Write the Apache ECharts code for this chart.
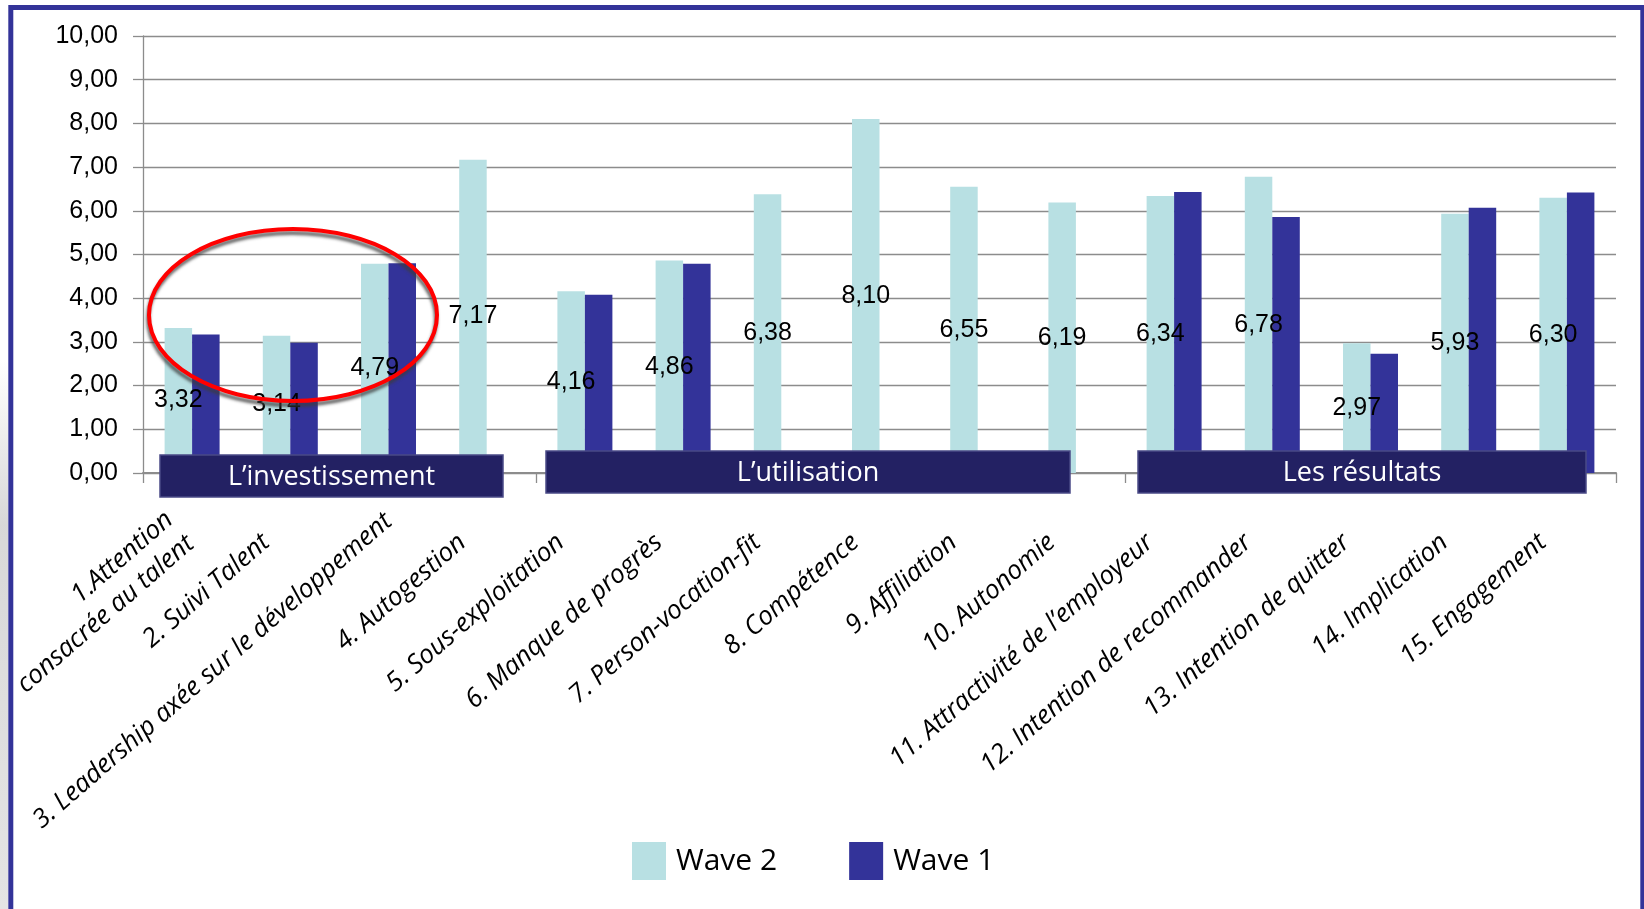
<!DOCTYPE html>
<html>
<head>
<meta charset="utf-8">
<script src="https://cdn.jsdelivr.net/npm/echarts@6/dist/echarts.min.js"></script>
<style>
  html, body { margin: 0; padding: 0; background: #fff; }
  #chart { width: 1644px; height: 909px; }
</style>
</head>
<body>
<div id="chart"></div>
<script>
// Dimension scores per wave
const categories = [
  '1.Attention\nconsacrée au talent',
  '2. Suivi Talent',
  '3. Leadership axée sur le développement',
  '4. Autogestion',
  '5. Sous-exploitation',
  '6. Manque de progrès',
  '7. Person-vocation-fit',
  '8. Compétence',
  '9. Affiliation',
  '10. Autonomie',
  '11. Attractivité de l’employeur',
  '12. Intention de recommander',
  '13. Intention de quitter',
  '14. Implication',
  '15. Engagement'
];
const wave2 = [3.32, 3.14, 4.79, 7.17, 4.16, 4.86, 6.38, 8.10, 6.55, 6.19, 6.34, 6.78, 2.97, 5.93, 6.30];
const wave1 = [3.17, 2.98, 4.80, null, 4.08, 4.79, null, null, null, null, 6.43, 5.86, 2.73, 6.07, 6.42];
const seriesNames = ['Wave 2', 'Wave 1'];
const groupTitles = ['L’investissement', 'L’utilisation', 'Les résultats'];
const yMin = 0, yMax = 10, yStep = 1;

const fmt = v => Number(v).toFixed(2).replace('.', ',');

const NAVY = '#333399';
const CYAN = '#b8e0e3';
const BANNER = '#232163';
const GRIDGRAY = '#8c8c8c';

// Rotated category labels sit a little before their tick; the two longest
// ones are pulled forward so they stay inside the slide.
const LABEL_PAD = 32;
const padFor = i => (i === 2 ? 0 : i === 0 ? 16 : LABEL_PAD);
const axisData = categories.map((name, i) => ({
  value: name,
  textStyle: { padding: [0, padFor(i), 0, 0] }
}));

// Group banners laid over the category axis
const banners = [
  { x: 160, y: 455, w: 343, h: 42 },
  { x: 546, y: 451, w: 524, h: 42 },
  { x: 1138, y: 451, w: 448, h: 42 }
];

const graphics = [
  // slide frame
  {
    type: 'rect', z: 1, silent: true,
    shape: { x: 10.8, y: 7.5, width: 1632, height: 960 },
    style: { fill: null, stroke: NAVY, lineWidth: 5 }
  },
  // soft shade at the left edge of the slide
  {
    type: 'rect', z: 0, silent: true,
    shape: { x: 0, y: 360, width: 8, height: 549 },
    style: {
      fill: new echarts.graphic.LinearGradient(0, 0, 0, 1, [
        { offset: 0, color: 'rgba(200,200,200,0)' },
        { offset: 0.3, color: 'rgba(200,200,200,0.7)' },
        { offset: 1, color: 'rgba(210,210,210,0.6)' }
      ])
    }
  }
];

banners.forEach((b, i) => {
  graphics.push({
    type: 'rect', z: 100, silent: true,
    shape: { x: b.x, y: b.y, width: b.w, height: b.h },
    style: { fill: BANNER, stroke: '#4a4a86', lineWidth: 1.5 }
  });
  graphics.push({
    type: 'text', z: 101, silent: true,
    x: b.x + b.w / 2, y: b.y + b.h / 2 + 1,
    style: {
      text: groupTitles[i],
      fill: '#ffffff',
      font: '27px "Open Sans"',
      align: 'center',
      verticalAlign: 'middle'
    }
  });
});

// highlight ring around the first three dimensions
graphics.push({
  type: 'ellipse', z: 110, silent: true,
  shape: { cx: 293, cy: 315, rx: 144, ry: 86 },
  style: {
    fill: null, stroke: '#ff0000', lineWidth: 4,
    shadowColor: 'rgba(60,60,60,0.75)', shadowBlur: 3,
    shadowOffsetX: -1, shadowOffsetY: 4
  }
});

const chart = echarts.init(document.getElementById('chart'), null, { renderer: 'canvas' });

chart.setOption({
  animation: false,
  backgroundColor: '#ffffff',
  grid: {
    left: 143, right: 28, top: 36, bottom: 436,
    containLabel: false, outerBoundsMode: 'none'
  },
  legend: {
    data: seriesNames,
    left: 627, top: 837,
    icon: 'rect',
    itemWidth: 34, itemHeight: 38,
    itemGap: 72,
    textStyle: {
      fontFamily: '"Open Sans"', fontSize: 30, fontWeight: 500, color: '#000',
      padding: [0, 0, 0, 5]
    }
  },
  xAxis: {
    type: 'category',
    data: axisData,
    axisLine: { show: true, lineStyle: { color: GRIDGRAY, width: 2 } },
    axisTick: { show: true, length: 10, lineStyle: { color: GRIDGRAY, width: 1.3 } },
    axisLabel: {
      interval: 0,
      rotate: 41,
      margin: 45,
      fontFamily: '"Open Sans"',
      fontStyle: 'italic',
      fontSize: 26,
      lineHeight: 32,
      color: '#000'
    }
  },
  yAxis: {
    type: 'value',
    min: yMin, max: yMax, interval: yStep,
    axisLine: { show: true, lineStyle: { color: GRIDGRAY, width: 1.3 } },
    axisTick: { show: true, length: 10, lineStyle: { color: GRIDGRAY, width: 1.3 } },
    splitLine: { show: true, lineStyle: { color: GRIDGRAY, width: 1.3 } },
    axisLabel: {
      margin: 25,
      fontFamily: '"Liberation Sans", Arial, sans-serif',
      fontSize: 25,
      color: '#000',
      formatter: fmt
    }
  },
  series: [
    {
      name: seriesNames[0],
      type: 'bar',
      data: wave2,
      barGap: '0%',
      barCategoryGap: '44%',
      itemStyle: { color: CYAN },
      label: {
        show: true,
        position: 'inside',
        formatter: p => fmt(p.value),
        fontFamily: '"Liberation Sans", Arial, sans-serif',
        fontSize: 25,
        color: '#000'
      },
      z: 2
    },
    {
      name: seriesNames[1],
      type: 'bar',
      data: wave1,
      barGap: '0%',
      barCategoryGap: '44%',
      itemStyle: { color: NAVY },
      z: 2
    }
  ],
  graphic: graphics
});
</script>
</body>
</html>
